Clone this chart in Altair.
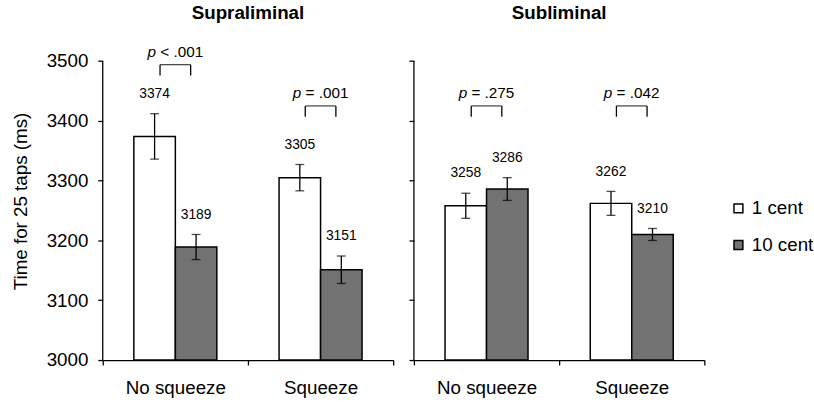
import altair as alt
import pandas as pd

# ---------------- data ----------------
conditions = ["No squeeze", "Squeeze"]
rewards = ["1 cent", "10 cent"]

# order: (No squeeze, 1 cent), (No squeeze, 10 cent), (Squeeze, 1 cent), (Squeeze, 10 cent)
supra_means = [3374, 3189, 3305, 3151]
supra_errs = [38, 21, 22, 23]
sub_means = [3258, 3286, 3262, 3210]
sub_errs = [21, 19, 20, 10]

supra_p = ["< .001", "= .001"]
sub_p = ["= .275", "= .042"]
supra_bracket = [3494, 3425]
sub_bracket = [3425, 3425]

y_ticks = [3000, 3100, 3200, 3300, 3400, 3500]

# ---------------- style ----------------
FONT = "Liberation Sans"
GRAY = "#727272"
INK = "#000000"
Y_MIN, Y_MAX = 3000, 3532
LEG = 18
W, H = 294, 322


def bars_df(means, errs):
    rows = []
    i = 0
    for c in conditions:
        for r in rewards:
            m, e = means[i], errs[i]
            rows.append(dict(condition=c, reward=r, mean=m, lo=m - e, hi=m + e, label=str(m)))
            i += 1
    return pd.DataFrame(rows)


def p_df(ps, levels):
    return pd.DataFrame(dict(
        condition=conditions,
        p=ps,
        top=levels,
        leg=[lv - LEG for lv in levels],
        pp=["p"] * len(ps),
    ))


legend = alt.Legend(
    title=None, orient="none", legendX=634, legendY=159,
    symbolType="square", symbolSize=81, symbolStrokeColor="black",
    symbolStrokeWidth=1.5, labelFontSize=19, labelFont=FONT, labelColor=INK,
    rowPadding=17, labelOffset=4,
)


def panel(title, means, errs, ps, levels, show_y):
    df = bars_df(means, errs)
    pdf = p_df(ps, levels)

    x = alt.X("condition:N",
              scale=alt.Scale(domain=conditions, paddingInner=0, paddingOuter=0),
              axis=alt.Axis(title=None, labelAngle=0, tickBand="extent", labelFontSize=19,
                            labelFont=FONT, labelColor=INK, labelPadding=14, tickSize=5,
                            domainColor=INK, tickColor=INK, domainWidth=1.3, tickWidth=1.3))
    xo = alt.XOffset("reward:N", scale=alt.Scale(domain=rewards, paddingInner=0, paddingOuter=0.75))
    yscale = alt.Scale(domain=[Y_MIN, Y_MAX], nice=False, zero=False)
    if show_y:
        yaxis = alt.Axis(values=y_ticks, format="d", domain=False, title="Time for 25 taps (ms)",
                         titleFontSize=19, titleFont=FONT, titleFontWeight="normal",
                         titleColor=INK, titlePadding=16, labelFontSize=19, labelFont=FONT,
                         labelColor=INK, labelPadding=10, tickSize=5, tickColor=INK,
                         tickWidth=1.3, grid=False)
    else:
        yaxis = alt.Axis(values=y_ticks, domain=False, title=None, labels=False,
                         tickSize=5, tickColor=INK, tickWidth=1.3, grid=False)

    base = alt.Chart(df)
    bars = base.mark_bar(stroke="black", strokeWidth=1.5).encode(
        x=x, xOffset=xo,
        y=alt.Y("mean:Q", scale=yscale, axis=yaxis),
        y2=alt.datum(Y_MIN),
        color=alt.Color("reward:N", scale=alt.Scale(domain=rewards, range=["white", GRAY]),
                        legend=legend),
    )
    err = base.mark_rule(color="black", strokeWidth=1.3).encode(
        x=x, xOffset=xo, y=alt.Y("lo:Q", scale=yscale), y2="hi:Q")
    cap_hi = base.mark_tick(color="black", thickness=1.3, size=9, orient="horizontal").encode(
        x=x, xOffset=xo, y=alt.Y("hi:Q", scale=yscale))
    cap_lo = base.mark_tick(color="black", thickness=1.3, size=9, orient="horizontal").encode(
        x=x, xOffset=xo, y=alt.Y("lo:Q", scale=yscale))
    labels = base.mark_text(font=FONT, fontSize=14, dy=-20, baseline="middle", color=INK).encode(
        x=x, xOffset=xo, y=alt.Y("hi:Q", scale=yscale), text="label:N")

    axis_line = alt.Chart(pd.DataFrame({"a": [0]})).mark_rule(color=INK, strokeWidth=1.3).encode(
        x=alt.value(0), y=alt.datum(Y_MIN), y2=alt.datum(3500))

    pbase = alt.Chart(pdf)
    b_top = pbase.mark_tick(color="black", thickness=1.3, size=31, orient="horizontal").encode(
        x=x, y=alt.Y("top:Q", scale=yscale))
    b_l = pbase.mark_rule(color="black", strokeWidth=1.3, xOffset=-15.5).encode(
        x=x, y=alt.Y("top:Q", scale=yscale), y2="leg:Q")
    b_r = pbase.mark_rule(color="black", strokeWidth=1.3, xOffset=15.5).encode(
        x=x, y=alt.Y("top:Q", scale=yscale), y2="leg:Q")
    p_it = pbase.mark_text(font=FONT, fontSize=15.5, fontStyle="italic", align="right",
                           baseline="middle", dx=-19.6, dy=-13, color=INK).encode(
        x=x, y=alt.Y("top:Q", scale=yscale), text="pp:N")
    p_rest = pbase.mark_text(font=FONT, fontSize=15.5, align="left",
                             baseline="middle", dx=-15.3, dy=-13, color=INK).encode(
        x=x, y=alt.Y("top:Q", scale=yscale), text="p:N")

    return alt.layer(bars, err, cap_hi, cap_lo, labels, axis_line, b_top, b_l, b_r, p_it, p_rest).properties(
        width=W, height=H,
        title=alt.TitleParams(title, frame="group", anchor="middle", fontSize=19, font=FONT,
                              fontWeight="bold", color=INK, baseline="alphabetic", offset=4),
    )


left = panel("Supraliminal", supra_means, supra_errs, supra_p, supra_bracket, True)
right = panel("Subliminal", sub_means, sub_errs, sub_p, sub_bracket, False)

chart = alt.hconcat(left, right, spacing=14).resolve_scale(color="shared").properties(
    padding={"left": 11, "top": 2, "right": 0, "bottom": 0},
).configure(background="white").configure_view(stroke=None)

chart.save("out.html", embed_options={"renderer": "svg", "actions": False})
